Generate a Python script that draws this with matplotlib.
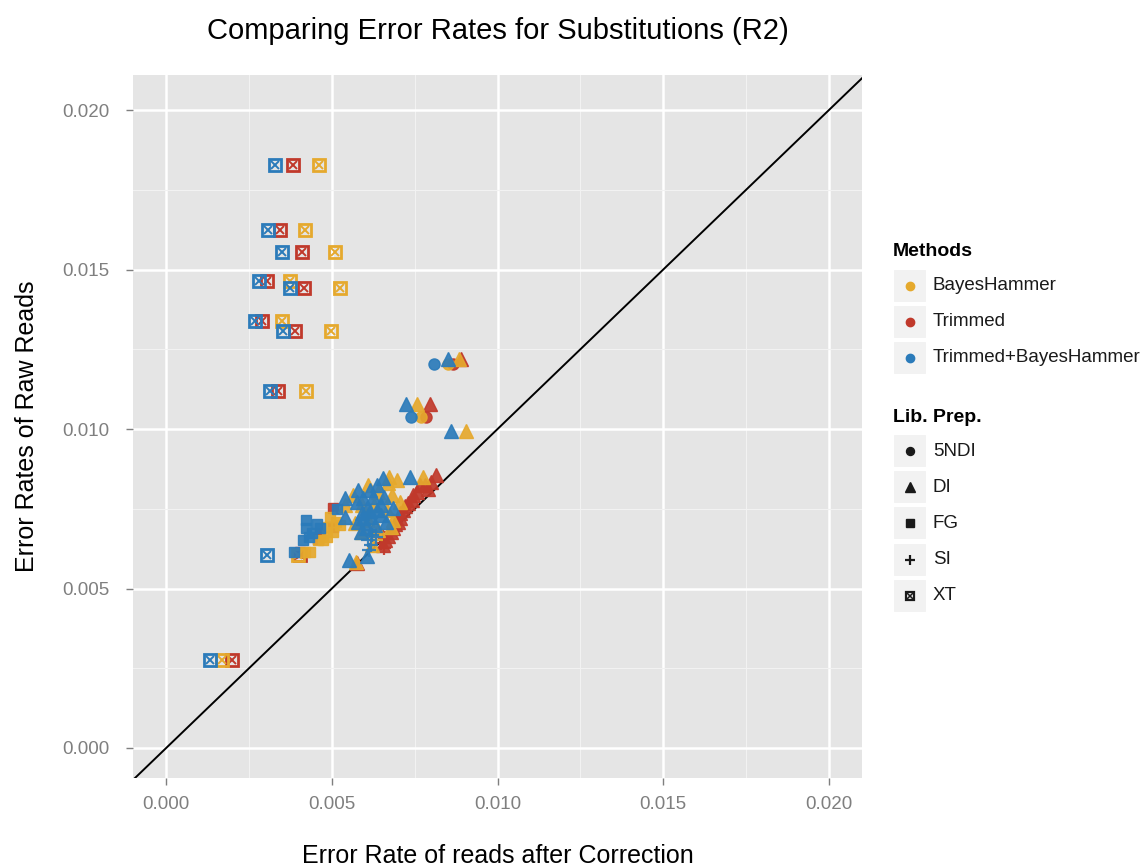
import matplotlib
matplotlib.use('Agg')
import matplotlib.pyplot as plt
from matplotlib.patches import Rectangle
from matplotlib.ticker import MultipleLocator, FuncFormatter
import numpy as np

plt.rcParams['font.family'] = ['Liberation Sans', 'DejaVu Sans']

# error rates, in units of 1e-3 (corrected, raw) per method and library prep
methods = ['BayesHammer', 'Trimmed', 'Trimmed+BayesHammer']
colors = {'BayesHammer': '#E5A92D', 'Trimmed': '#C0392B', 'Trimmed+BayesHammer': '#2B7BBA'}
preps = ['5NDI', 'DI', 'FG', 'SI', 'XT']

xt_raw = [18.28, 16.24, 15.55, 14.64, 14.42, 13.39, 13.07, 11.19, 2.76, 6.05]
xt_bh = [4.62, 4.20, 5.08, 3.75, 5.26, 3.50, 4.98, 4.23, 1.69, 3.99]
xt_tr = [3.84, 3.44, 4.11, 3.05, 4.17, 2.90, 3.90, 3.38, 1.99, 4.05]
xt_tbh = [3.29, 3.08, 3.51, 2.81, 3.75, 2.69, 3.54, 3.14, 1.33, 3.05]

ndi_raw = [12.05, 10.38]
ndi_bh = [8.49, 7.70]
ndi_tr = [8.67, 7.85]
ndi_tbh = [8.07, 7.40]

di_bh_x = [8.85, 7.58, 9.06, 7.76, 6.71, 6.98, 6.68, 6.10, 6.40, 6.80, 5.65, 5.92, 6.28,
           6.65, 6.86, 6.10, 5.71, 6.40, 6.77, 5.92, 6.22, 5.74, 5.41, 7.07]
di_bh_y = [12.19, 10.78, 9.94, 8.50, 8.50, 8.40, 8.31, 8.24, 8.03, 7.93, 7.93, 7.62, 7.62,
           7.46, 7.15, 7.15, 7.05, 6.83, 6.93, 6.77, 6.36, 5.83, 7.62, 7.71]
di_tr_x = [8.91, 7.95, 8.13, 7.98, 7.82, 7.67, 7.89, 7.58, 7.46, 7.43, 7.31, 7.22, 7.16,
           7.07, 7.07, 7.01, 6.92, 6.86, 6.77, 6.68, 6.59, 6.53, 5.77]
di_tr_y = [12.19, 10.78, 8.56, 8.34, 8.24, 8.24, 8.12, 8.03, 7.93, 7.77, 7.68, 7.59, 7.46,
           7.37, 7.21, 7.08, 7.02, 6.90, 6.77, 6.65, 6.52, 6.36, 5.80]
di_tbh_x = [8.49, 7.25, 8.61, 7.37, 6.53, 6.37, 6.16, 5.80, 5.95, 6.25, 6.56, 5.41, 5.77,
            6.47, 6.07, 6.37, 6.83, 5.92, 5.41, 6.16, 6.47, 5.80, 6.04, 6.31, 6.62, 5.53,
            5.89, 6.07, 5.95, 6.16]
di_tbh_y = [12.19, 10.78, 9.94, 8.50, 8.46, 8.24, 8.09, 8.09, 7.84, 7.87, 7.87, 7.84, 7.71,
            7.62, 7.52, 7.46, 7.52, 7.37, 7.24, 7.24, 7.30, 7.08, 6.90, 6.99, 7.08, 5.89,
            6.77, 6.02, 7.21, 7.42]

fg_bh_x = [4.95, 5.11, 5.26, 4.86, 5.02, 4.86, 4.74, 4.35, 4.20, 4.59]
fg_bh_y = [7.24, 7.08, 6.99, 6.93, 6.77, 6.61, 6.52, 6.14, 6.14, 6.52]
fg_tr_x = [5.02, 5.02, 4.65, 4.59, 4.05]
fg_tr_y = [7.52, 6.93, 6.74, 6.55, 6.14]
fg_tbh_x = [4.23, 4.23, 4.56, 4.41, 4.14, 4.32, 3.87, 5.14, 4.65]
fg_tbh_y = [7.15, 6.90, 7.02, 6.74, 6.52, 6.61, 6.14, 7.49, 6.90]

si_bh_x = [6.34]
si_bh_y = [6.52]
si_tr_x = [6.53, 6.47, 6.56, 6.43]
si_tr_y = [6.61, 6.43, 6.27, 6.77]
si_tbh_x = [6.16, 6.22, 6.10, 6.19, 6.34, 6.13]
si_tbh_y = [6.83, 6.68, 6.52, 6.36, 6.61, 6.21]

series = {
    'BayesHammer': {'5NDI': (ndi_bh, ndi_raw), 'DI': (di_bh_x, di_bh_y),
                    'FG': (fg_bh_x, fg_bh_y), 'SI': (si_bh_x, si_bh_y), 'XT': (xt_bh, xt_raw)},
    'Trimmed': {'5NDI': (ndi_tr, ndi_raw), 'DI': (di_tr_x, di_tr_y),
                'FG': (fg_tr_x, fg_tr_y), 'SI': (si_tr_x, si_tr_y), 'XT': (xt_tr, xt_raw)},
    'Trimmed+BayesHammer': {'5NDI': (ndi_tbh, ndi_raw), 'DI': (di_tbh_x, di_tbh_y),
                            'FG': (fg_tbh_x, fg_tbh_y), 'SI': (si_tbh_x, si_tbh_y),
                            'XT': (xt_tbh, xt_raw)},
}

shape = {'5NDI': dict(marker='o', ms=8),
         'DI': dict(marker='^', ms=9.5),
         'FG': dict(marker='s', ms=7.5),
         'SI': dict(marker='+', ms=10, mew=1.6)}


def draw_xt(ax, x, y, c, ms=8, z=3, lw=2.0):
    ax.plot(x, y, ls='none', marker='s', ms=ms, mfc='none', mec=c, mew=lw, zorder=z)
    ax.plot(x, y, ls='none', marker='x', ms=ms * 0.72, mec=c, mew=lw * 0.7, zorder=z)


fig = plt.figure(figsize=(11.48, 8.67), dpi=100)
ax = fig.add_axes([0.1159, 0.1027, 0.635, 0.8108])
ax.set_facecolor('#E5E5E5')
for s in ax.spines.values():
    s.set_visible(False)

ax.set_xlim(-0.001, 0.021)
ax.set_ylim(-0.00094, 0.0211)
ax.xaxis.set_major_locator(MultipleLocator(0.005))
ax.yaxis.set_major_locator(MultipleLocator(0.005))
ax.xaxis.set_minor_locator(MultipleLocator(0.0025))
ax.yaxis.set_minor_locator(MultipleLocator(0.0025))
fmt = FuncFormatter(lambda v, p: '%.3f' % v)
ax.xaxis.set_major_formatter(fmt)
ax.yaxis.set_major_formatter(fmt)
ax.grid(which='major', color='white', lw=1.8)
ax.grid(which='minor', color='#F2F2F2', lw=0.8)
ax.set_axisbelow(True)
ax.tick_params(which='major', length=5, color='#7F7F7F', labelcolor='#7F7F7F',
               labelsize=13.5, width=1)
ax.tick_params(axis='y', pad=12)
ax.tick_params(axis='x', pad=8)
ax.tick_params(which='minor', length=0)

ax.plot([-0.002, 0.022], [-0.002, 0.022], color='black', lw=1.4, zorder=2)

for z, m in enumerate(['Trimmed', 'BayesHammer', 'Trimmed+BayesHammer']):
    c = colors[m]
    for p in preps:
        xs, ys = series[m][p]
        xs = np.array(xs) * 1e-3
        ys = np.array(ys) * 1e-3
        if p == 'XT':
            draw_xt(ax, xs, ys, c, z=3 + z)
        else:
            ax.plot(xs, ys, ls='none', color=c, alpha=0.92, zorder=3 + z, **shape[p])

ax.set_title('Comparing Error Rates for Substitutions (R2)', fontsize=21, pad=26)
ax.set_xlabel('Error Rate of reads after Correction', fontsize=18, labelpad=22)
ax.set_ylabel('Error Rates of Raw Reads', fontsize=18, labelpad=17)

# legends, laid out in pixel coordinates
lg = fig.add_axes([0, 0, 1, 1], zorder=-1)
lg.set_xlim(0, 1148)
lg.set_ylim(867, 0)
lg.axis('off')


def key(y, label):
    lg.add_patch(Rectangle((893, y - 17), 34, 34, facecolor='#F2F2F2', edgecolor='white', lw=1.5))
    lg.text(933, y, label, fontsize=13.5, va='center', ha='left', color='#1a1a1a')


lg.text(893, 251, 'Methods', fontsize=14, fontweight='bold', va='center')
for i, m in enumerate(methods):
    y = 286 + i * 36
    key(y, m)
    lg.plot(910, y, marker='o', ms=6, color=colors[m], ls='none')

lg.text(893, 418, 'Lib. Prep.', fontsize=14, fontweight='bold', va='center')
for i, p in enumerate(preps):
    y = 451 + i * 36.2
    key(y, p)
    if p == 'XT':
        draw_xt(lg, [910], [y], '#1a1a1a', ms=6, lw=1.6)
    else:
        st = dict(shape[p])
        st['ms'] = st['ms'] * 0.72
        lg.plot(910, y, ls='none', color='#1a1a1a', **st)

fig.savefig('out.png', dpi=100)
